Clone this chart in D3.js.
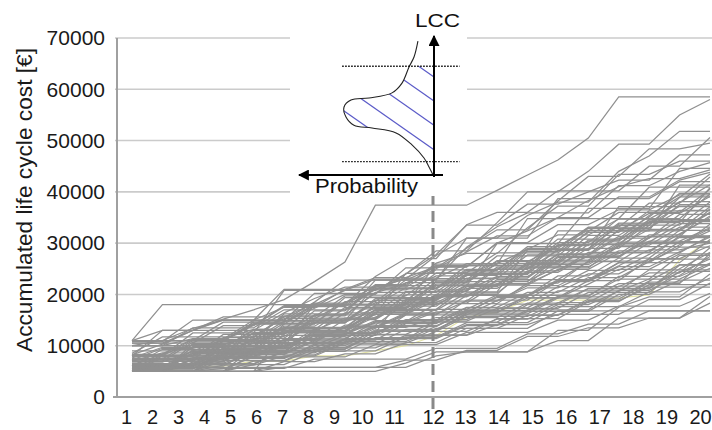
<!DOCTYPE html>
<html>
<head>
<meta charset="utf-8">
<script src="https://cdn.jsdelivr.net/npm/d3@7"></script>
<style>
    body { margin: 0; background: #fff; }
    svg { display: block; font-family: "Liberation Sans", Arial, sans-serif; }
</style>
</head>
<body>
<div id="chart"></div>
<script>
const WIDTH = 712;
const HEIGHT = 430;

// years of the life cycle (x categories / tick labels)
const years = [1, 2, 3, 4, 5, 6, 7, 8, 9, 10, 11, 12, 13, 14, 15, 16, 17, 18, 19, 20];
const yTicks = [0, 10000, 20000, 30000, 40000, 50000, 60000, 70000];
const markYear = 12;

// simulated accumulated LCC paths, in thousand euro (one value per year)
const upperPaths = [
    [10.5,10.5,13,15.2,17,19,22.5,26.3,37.4,37.4,37.4,37.4,40.3,43.3,46.2,50.5,58.5,58.5,58.5,58.5],
    [11,18,18,18,18,18,18,20.8,20.8,24,28.5,28.5,34,40,40,44,49.3,49.3,55,58],
    [8,8,12.5,12.5,12.5,20.8,20.8,20.8,23,23,27.6,31,31,35.4,38,38,44,47,51.8,51.8],
    [10,11,11,11,14.2,14.2,18,18,23.5,27,27,33.6,36,36,40.2,40.2,40.2,45,45,50.6],
    [7.2,9.5,9.5,11,14.6,14.6,17.3,20,20,25.2,25.2,29,32.6,32.6,38.2,43,43,48.4,48.4,49.5],
    [6.1,8.4,11.3,11.3,15,15,20.2,20.2,20.2,24,27.8,33.5,33.5,37.6,37.6,40,42.3,42.3,47.2,47.2],
    [5,5,9.2,9.2,12,15.3,15.3,18.4,21.6,21.6,26.1,28,28,33,37.2,37.2,43.4,43.4,46,46],
    [8.2,10.3,13,13,13,16.4,19.2,21.4,21.4,23,23,29.2,33.2,35.9,35.9,35.9,41.2,41.2,44,45.7],
    [11,11,13.4,15,15,17.5,17.5,21,23.3,23.3,25.4,25.4,30,32.4,35,38.3,41,42.6,42.6,44.3],
    [5.3,6,8.2,10.1,12.4,12.4,16,16,20.3,22.2,25,28.3,31.4,31.4,35,35,39,39,42.3,43.8],
    [6,6,6,11,11,16.2,16.2,16.2,22.8,22.8,22.8,31,31,31,38.7,38.7,38.7,38.7,42,42],
    [5,5,10.4,10.4,10.4,10.4,18,18,18,18,25.9,25.9,25.9,34.8,34.8,34.8,34.8,40.9,40.9,40.9],
    [7.5,7.5,7.5,7.5,14.9,14.9,14.9,14.9,21.7,21.7,21.7,21.7,29.9,29.9,29.9,36.8,36.8,36.8,44.6,44.6],
    [5,5,5,5,5,12.5,12.5,12.5,12.5,20.5,20.5,20.5,20.5,28.7,28.7,28.7,37.1,37.1,37.1,37.1],
    [10,10,10,10,10,10,16,16,16,24.1,24.1,24.1,24.1,24.1,32.4,32.4,32.4,32.4,41.3,41.3],
    [8,13,13,15,15,21,21,21,21,23.2,23.2,26,26,28.8,31.6,31.6,34.7,34.7,37.9,41.4],
    [10.8,10.8,15,15,15,15,18.5,22.8,22.8,22.8,25.3,25.3,30.1,30.1,33.6,33.6,36.5,36.5,39.4,39.4]
];

const middlePaths = [
    [5,5,8.5,8.5,8.5,12,12,12,16.5,16.5,20,20,20,25.5,25.5,29,29,33.5,33.5,38],
    [6.2,6.2,6.2,10.4,10.4,13.8,13.8,17.2,17.2,17.2,22.6,22.6,26,26,30.8,30.8,30.8,35.4,39,39],
    [7.4,7.4,11,11,14.3,14.3,14.3,18.6,18.6,22.8,22.8,22.8,27.5,27.5,27.5,32.3,36,36,36,40.5],
    [5,7.6,7.6,7.6,11.8,11.8,15.4,15.4,15.4,19.9,19.9,24.1,24.1,28.8,28.8,28.8,33.7,33.7,37.2,37.2],
    [8,8,8,12.2,12.2,12.2,16.8,16.8,21.2,21.2,21.2,25.6,25.6,25.6,30.1,30.1,34.8,34.8,34.8,39.6],
    [10,10,13.5,13.5,13.5,17,17,17,21.4,21.4,24.8,24.8,24.8,29.3,29.3,33,33,33,36.4,36.4],
    [5.5,5.5,5.5,9,9,12.7,12.7,12.7,16.2,16.2,19.6,19.6,23.4,23.4,27.9,27.9,27.9,31.6,31.6,35.3],
    [6,9.3,9.3,9.3,9.3,13.1,13.1,17.5,17.5,17.5,21.7,21.7,21.7,26.3,26.3,30.6,30.6,34.2,34.2,34.2],
    [5,5,7.3,7.3,10.6,10.6,10.6,14,14,18.3,18.3,18.3,22,22,26.7,26.7,30.2,30.2,33.8,33.8],
    [7,7,7,7,11.5,11.5,15.2,15.2,15.2,19,19,23.2,23.2,23.2,27.4,27.4,27.4,31.2,31.2,36.7],
    [11,11,11,14.6,14.6,14.6,18.1,18.1,18.1,22.3,22.3,22.3,26,26,26,30.4,30.4,34.6,34.6,34.6],
    [5.2,5.2,8.7,8.7,8.7,8.7,12.9,12.9,17.1,17.1,17.1,21.5,21.5,25.2,25.2,25.2,29.6,29.6,33.1,33.1],
    [6,6,6,9.6,9.6,9.6,13.3,13.3,16.9,16.9,16.9,20.3,20.3,24.6,24.6,28.2,28.2,28.2,32.5,32.5],
    [8,8,11.2,11.2,11.2,14.8,14.8,14.8,18.4,18.4,22,22,22,25.8,25.8,25.8,29.3,29.3,29.3,33.7],
    [5,5,5,5,8.4,8.4,12.1,12.1,12.1,16,16,19.8,19.8,19.8,23.6,23.6,27.1,27.1,31.4,31.4],
    [10.5,10.5,10.5,13.9,13.9,17.6,17.6,17.6,21.1,21.1,21.1,24.4,24.4,24.4,27.8,27.8,31.3,31.3,31.3,31.3],
    [5,8,8,8,11.4,11.4,11.4,15.1,15.1,18.7,18.7,18.7,22.9,22.9,22.9,26.4,26.4,30.1,30.1,30.1],
    [6.5,6.5,6.5,10,10,13.6,13.6,13.6,17.7,17.7,17.7,21.8,21.8,26.1,26.1,26.1,29.9,29.9,29.9,32.8],
    [7,7,10.7,10.7,10.7,10.7,14.5,14.5,18.9,18.9,18.9,22.5,22.5,22.5,27.2,27.2,27.2,31,35.6,35.6],
    [5,5,5,7.8,7.8,11.3,11.3,11.3,14.7,14.7,18.2,18.2,18.2,22.2,22.2,26.5,26.5,26.5,30.3,30.3],
    [8.5,11.7,11.7,11.7,11.7,15.8,15.8,15.8,20.4,20.4,20.4,24.7,24.7,29,29,33.1,33.1,37.8,37.8,42.9],
    [5,5,9.8,9.8,9.8,13.4,13.4,13.4,17.9,17.9,22.4,22.4,26.6,26.6,26.6,31.5,31.5,35.1,39.7,39.7],
    [6,6,9,9,9,14.2,14.2,19.4,19.4,19.4,19.4,23.7,23.7,28.4,28.4,32.9,32.9,32.9,37.5,37.5],
    [7.3,7.3,7.3,11.6,11.6,15.6,15.6,19.7,19.7,19.7,24.2,24.2,28.1,28.1,28.1,32.1,32.1,36.3,36.3,36.3],
    [5,5,6.8,6.8,10.9,10.9,14.9,14.9,18.8,18.8,23.1,23.1,23.1,27.7,27.7,27.7,32.6,32.6,32.6,37.1],
    [11,11,11,11,14,17.8,17.8,17.8,21.9,21.9,25.6,25.6,25.6,25.6,29.5,29.5,33.9,33.9,38.1,38.1],
    [6,6,6,9.4,13.2,13.2,17.9,17.9,17.9,21.3,21.3,24.9,24.9,24.9,28.6,28.6,32.4,32.4,32.4,35.9],
    [5.5,8.2,8.2,8.2,12.6,12.6,12.6,16.4,16.4,20.6,20.6,20.6,25,25,29.7,29.7,29.7,34,34,40.8],
    [8,8,8,10.8,10.8,14.4,14.4,14.4,19.2,19.2,19.2,23.9,23.9,23.9,28.9,28.9,33.4,33.4,38.9,43.5],
    [5,5,5,8.9,8.9,8.9,13,13,16.6,16.6,20.9,20.9,25.3,25.3,25.3,29.8,29.8,34.5,34.5,34.5],
    [6.8,6.8,8.9,8.9,11,11,11,13.5,13.5,16.2,16.2,18.7,18.7,21.3,21.3,24,24,27,27,29.5],
    [5,6,6,7.9,7.9,10.1,10.1,12.4,12.4,14.8,14.8,17.5,17.5,20.4,20.4,23.3,23.3,26.4,29.2,29.2],
    [8.3,8.3,10.2,10.2,12.3,12.3,14.6,14.6,16.9,16.9,19.5,19.5,22.1,22.1,24.8,27.5,27.5,30.4,30.4,33],
    [5.4,5.4,7.2,9,9,11.2,11.2,13.7,13.7,16.4,16.4,16.4,19.6,19.6,22.9,22.9,26.2,26.2,29.7,32.4],
    [7,8.6,8.6,10.4,10.4,12.9,12.9,12.9,15.6,18.4,18.4,21.2,21.2,24.3,24.3,27.6,31,31,34.4,34.4],
    [10,10,11.4,11.4,13.2,13.2,15,15,17.3,17.3,19.8,19.8,22.6,22.6,25.4,25.4,28.5,28.5,31.8,35],
    [5,5,5,5,9.6,9.6,9.6,12,12,14.5,14.5,17,17,19.7,22.5,22.5,25.4,25.4,28.3,31.2],
    [6,6,7.7,7.7,7.7,9.9,12.2,12.2,14.6,14.6,17.1,17.1,19.9,19.9,22.7,22.7,25.6,28.7,28.7,30],
    [7.6,9.7,9.7,9.7,13,13,13,15.4,15.4,18,18,20.8,23.5,23.5,26.5,26.5,29.5,32.7,32.7,36],
    [11,13,13,15.6,15.6,15.6,18.3,18.3,20.9,20.9,23.6,23.6,26.4,26.4,29.4,32.5,32.5,35.8,35.8,39.1],
    [9,9,9,11.1,11.1,13.5,13.5,13.5,16.1,16.1,18.9,21.8,21.8,21.8,24.9,24.9,28.1,28.1,28.1,31.5]
];

const lowerPaths = [
    [5,5,5,5,5,5,5,5,5,6.6,8.8,8.8,8.8,8.8,13,13,17.5,19.5,19.5,24],
    [5,5,5,5,5,5.8,5.8,5.8,5.8,5.8,8,8.8,8.8,8.8,11,11,15.4,15.4,15.4,18.3],
    [5,5,5,5.6,5.6,5.6,7.4,7.4,7.4,7.4,9.5,9.5,9.5,12.3,12.3,14.2,14.2,16.8,16.8,16.8],
    [5.5,5.5,5.5,5.5,7.8,7.8,7.8,7.8,10.2,10.2,10.2,12.6,12.6,12.6,15,15,17.7,17.7,17.7,20.2],
    [6,6,6,8.2,8.2,8.2,8.2,10.8,10.8,10.8,13.4,13.4,13.4,13.4,16.8,16.8,16.8,16.8,16.8,16.8],
    [5,5,6.4,6.4,6.4,9,9,9,9,11.7,11.7,14.5,14.5,14.5,17.6,17.6,17.6,20.5,20.5,23.2],
    [5,5,5,7.1,7.1,7.1,9.7,9.7,12.1,12.1,12.1,12.1,15.3,15.3,15.3,18.6,18.6,21.9,21.9,21.9],
    [7,7,7,7,9.1,9.1,9.1,11.4,11.4,11.4,11.4,13.9,13.9,16.7,16.7,16.7,20,20,22.8,22.8],
    [5,5,7.5,7.5,7.5,7.5,10.3,10.3,10.3,13.2,13.2,16,16,16,16,19.1,19.1,22.4,22.4,25.1],
    [8,8,8,8,8,10.4,10.4,10.4,12.8,12.8,12.8,15.7,15.7,15.7,18.4,18.4,21.6,21.6,24.3,26.9],
    [6,6,6,6,9.4,9.4,9.4,9.4,12.2,12.2,14.8,14.8,17.3,17.3,17.3,20.4,20.4,20.4,24.5,24.5],
    [5,5,5,5,6.3,6.3,8.9,8.9,11.6,11.6,11.6,14.1,14.1,17,17,17,20.8,20.8,23.7,27.4],
    [10,10,10,10,10,10,11.8,11.8,13.6,13.6,15.5,15.5,15.5,18.3,18.3,21.2,21.2,21.2,25,28.2],
    [5.5,5.5,5.5,8.3,8.3,8.3,10.9,10.9,13.7,13.7,13.7,16.9,16.9,16.9,19.6,19.6,23.5,23.5,23.5,26.1],
    [6.3,6.3,6.3,6.3,8.6,8.6,11.1,11.1,11.1,14.3,14.3,17.4,17.4,17.4,20.7,20.7,20.7,24.8,24.8,24.8],
    [8,8,8,9.8,9.8,9.8,12.5,12.5,12.5,15.1,15.1,15.1,18.1,18.1,21.5,21.5,21.5,24.2,24.2,29.1],
    [5,5,5,5,7,7,9.3,9.3,12.9,12.9,12.9,16.4,16.4,19.8,19.8,19.8,23,23,27.6,27.6],
    [7,7,7,9.5,9.5,9.5,12.3,12.3,14.9,14.9,14.9,18.9,18.9,18.9,22.6,22.6,26.2,26.2,26.2,30.7],
    [5,6.5,6.5,6.5,6.5,8.8,8.8,11.3,11.3,11.3,14.6,14.6,14.6,18,18,21.1,21.1,21.1,25.7,25.7],
    [11,11,11,11,11,12.7,12.7,12.7,14.4,14.4,16.6,16.6,19.4,19.4,19.4,22.7,22.7,26.9,26.9,26.9],
    [6,6,6,7.7,7.7,7.7,10,10,13.1,13.1,13.1,16.2,16.2,16.2,19.3,19.3,22.1,22.1,22.1,28],
    [5,5,5,5,5,6.9,6.9,8.4,8.4,10.6,10.6,13.4,13.4,15.9,15.9,18.8,18.8,21.4,21.4,21.4],
    [5.8,5.8,5.8,5.8,5.8,5.8,5.8,5.8,5.8,7.2,7.2,9.1,9.1,11.8,11.8,13.5,13.5,15.4,15.4,19.6],
    [7.8,7.8,7.8,7.8,7.8,7.8,9.6,9.6,9.6,12,12,12,14.1,14.1,16.1,16.1,16.1,19,19,22.2],
    [5,5,5,6.2,6.2,8,8,10.5,10.5,10.5,12.8,12.8,15.2,15.2,18,18,20.6,23,23,25.8],
    [5.7,5.7,5.7,7.5,9.4,9.4,11.5,11.5,13.9,13.9,13.9,16.6,16.6,19.3,19.3,22,24.9,24.9,27.9,27.9],
    [6.4,6.4,6.4,8.4,8.4,10.6,10.6,10.6,13.4,16,16,16,18.8,21.7,21.7,24.7,24.7,27.8,31.1,31.1],
    [5,5,6.6,6.6,8.6,8.6,8.6,11.2,11.2,11.2,13.8,16.6,16.6,16.6,19.5,19.5,19.5,22.6,25.8,25.8]
];

// the single faint yellow path
const yellowPath = [5,5,6,6,7,7,8,8,9,10,12,15.6,16.5,18.9,18.9,18.9,19.3,19.9,26.7,30.6];

// schematic distribution in the inset: [probability share, LCC in euro]
const densityCurve = [
    [0.119, 69400], [0.148, 66300], [0.185, 64350], [0.237, 61200], [0.311, 59300],
    [0.481, 58300], [0.615, 57900], [0.667, 56500], [0.652, 54600], [0.593, 53000],
    [0.459, 52450], [0.281, 51500], [0.163, 49150], [0.074, 46600], [0.037, 44850],
    [0.007, 43300]
];
const bandLimits = [64500, 45900];
const hatchStarts = [62400, 57700, 53000, 48200, 43500];

const UNIT = 1000;

const svg = d3.select("#chart").append("svg")
    .attr("width", WIDTH)
    .attr("height", HEIGHT);

const x = d3.scaleLinear()
    .domain([1, 20])
    .range([132, 710]);

// the year labels sit in a text row with uneven spacing
const xLabel = d3.scaleLinear()
    .domain([1, 9, 10, 11, 12, 13, 20])
    .range([126, 334, 362, 394, 433, 465, 700]);

const y = d3.scaleLinear()
    .domain([0, 70000])
    .range([397, 38]);

// grid
svg.append("g")
    .attr("class", "grid")
    .selectAll("line")
    .data(yTicks.filter(d => d > 0))
    .enter().append("line")
    .attr("x1", 115)
    .attr("x2", WIDTH)
    .attr("y1", d => y(d))
    .attr("y2", d => y(d))
    .attr("stroke", "#cbcbcb")
    .attr("stroke-width", 1.6);

// paths
const line = d3.line()
    .x((d, i) => x(years[i]))
    .y(d => y(d * UNIT));

const allPaths = upperPaths.concat(middlePaths, lowerPaths);

// yellow one sits underneath, it only shows through the gaps
svg.append("path")
    .attr("d", line(yellowPath))
    .attr("fill", "none")
    .attr("stroke", "#e2e2a4")
    .attr("stroke-width", 1.2);

svg.append("g")
    .attr("class", "paths")
    .selectAll("path")
    .data(allPaths)
    .enter().append("path")
    .attr("d", line)
    .attr("fill", "none")
    .attr("stroke", "#909090")
    .attr("stroke-width", 1.25);

// axes lines
svg.append("line")
    .attr("x1", 117).attr("x2", 117)
    .attr("y1", y(70000)).attr("y2", y(0))
    .attr("stroke", "#a0a0a0")
    .attr("stroke-width", 2);

svg.append("line")
    .attr("x1", 113).attr("x2", WIDTH)
    .attr("y1", y(0)).attr("y2", y(0))
    .attr("stroke", "#a0a0a0")
    .attr("stroke-width", 2);

const yAxis = d3.axisLeft(y)
    .tickValues(yTicks)
    .tickFormat(d3.format("d"))
    .tickSize(0)
    .tickPadding(12);

svg.append("g")
    .attr("class", "y axis")
    .attr("transform", "translate(117,0)")
    .call(yAxis)
    .call(g => g.select(".domain").remove())
    .selectAll("text")
    .attr("font-family", "Liberation Sans, Arial, sans-serif")
    .attr("font-size", 21)
    .attr("fill", "#1a1a1a");

const xAxis = d3.axisBottom(xLabel)
    .tickValues(years)
    .tickFormat(d3.format("d"))
    .tickSize(0)
    .tickPadding(13);

svg.append("g")
    .attr("class", "x axis")
    .attr("transform", "translate(0," + y(0) + ")")
    .call(xAxis)
    .call(g => g.select(".domain").remove())
    .selectAll("text")
    .attr("font-family", "Liberation Sans, Arial, sans-serif")
    .attr("font-size", 20)
    .attr("fill", "#1a1a1a");

svg.append("text")
    .attr("transform", "translate(32,200) rotate(-90)")
    .attr("text-anchor", "middle")
    .attr("font-size", 22)
    .attr("fill", "#1a1a1a")
    .attr("textLength", 304)
    .attr("lengthAdjust", "spacingAndGlyphs")
    .text("Accumulated life cycle cost [€]");

// marker year
svg.append("line")
    .attr("x1", xLabel(markYear)).attr("x2", xLabel(markYear))
    .attr("y1", 177).attr("y2", 410)
    .attr("stroke", "#8a8a8a")
    .attr("stroke-width", 3)
    .attr("stroke-dasharray", "11,6");

// inset: probability distribution of LCC at the marked year
const inset = svg.append("g").attr("class", "inset");
const axisX = xLabel(markYear) + 1;
const p = d3.scaleLinear()
    .domain([0, 1])
    .range([axisX, axisX - 135]);

inset.append("rect")
    .attr("x", 290).attr("y", 0)
    .attr("width", 177).attr("height", 196)
    .attr("fill", "#fff");

const defs = svg.append("defs");

defs.append("marker")
    .attr("id", "arrow")
    .attr("viewBox", "0 0 10 10")
    .attr("refX", 9).attr("refY", 5)
    .attr("markerUnits", "userSpaceOnUse")
    .attr("markerWidth", 11).attr("markerHeight", 11)
    .attr("orient", "auto")
    .append("path")
    .attr("d", "M0,0 L10,5 L0,10 Z")
    .attr("fill", "#000");

const curve = d3.line()
    .x(d => p(d[0]))
    .y(d => y(d[1]))
    .curve(d3.curveCatmullRom.alpha(0.5));

const first = densityCurve[0];
const last = densityCurve[densityCurve.length - 1];

defs.append("clipPath")
    .attr("id", "under-curve")
    .append("path")
    .attr("d", curve(densityCurve) + "L" + p(0) + "," + y(last[1]) + "L" + p(0) + "," + y(first[1]) + "Z");

defs.append("clipPath")
    .attr("id", "band")
    .append("rect")
    .attr("x", p(1)).attr("width", p(0) - p(1))
    .attr("y", y(bandLimits[0])).attr("height", y(bandLimits[1]) - y(bandLimits[0]));

inset.append("g")
    .attr("clip-path", "url(#band)")
    .append("g")
    .attr("clip-path", "url(#under-curve)")
    .selectAll("line")
    .data(hatchStarts)
    .enter().append("line")
    .attr("x1", p(0))
    .attr("y1", d => y(d))
    .attr("x2", p(0.8))
    .attr("y2", d => y(d) - 0.7 * (p(0) - p(0.8)))
    .attr("stroke", "#5b5bc8")
    .attr("stroke-width", 1.2);

inset.append("path")
    .attr("d", curve(densityCurve))
    .attr("fill", "none")
    .attr("stroke", "#222")
    .attr("stroke-width", 1.1);

inset.selectAll(".limit")
    .data(bandLimits)
    .enter().append("line")
    .attr("class", "limit")
    .attr("x1", p(0.68)).attr("x2", p(-0.19))
    .attr("y1", d => y(d)).attr("y2", d => y(d))
    .attr("stroke", "#000")
    .attr("stroke-width", 1.4)
    .attr("stroke-dasharray", "1.5,1.5");

inset.append("line")
    .attr("x1", axisX).attr("x2", axisX)
    .attr("y1", 177).attr("y2", 36)
    .attr("stroke", "#000")
    .attr("stroke-width", 2)
    .attr("marker-end", "url(#arrow)");

inset.append("line")
    .attr("x1", axisX + 9).attr("x2", 299)
    .attr("y1", 175).attr("y2", 175)
    .attr("stroke", "#000")
    .attr("stroke-width", 2)
    .attr("marker-end", "url(#arrow)");

inset.append("text")
    .attr("x", 415).attr("y", 27)
    .attr("font-size", 18)
    .attr("textLength", 45)
    .attr("lengthAdjust", "spacingAndGlyphs")
    .attr("fill", "#111")
    .text("LCC");

inset.append("text")
    .attr("x", 315).attr("y", 193)
    .attr("font-size", 21)
    .attr("textLength", 103)
    .attr("lengthAdjust", "spacingAndGlyphs")
    .attr("fill", "#111")
    .text("Probability");
</script>
</body>
</html>
